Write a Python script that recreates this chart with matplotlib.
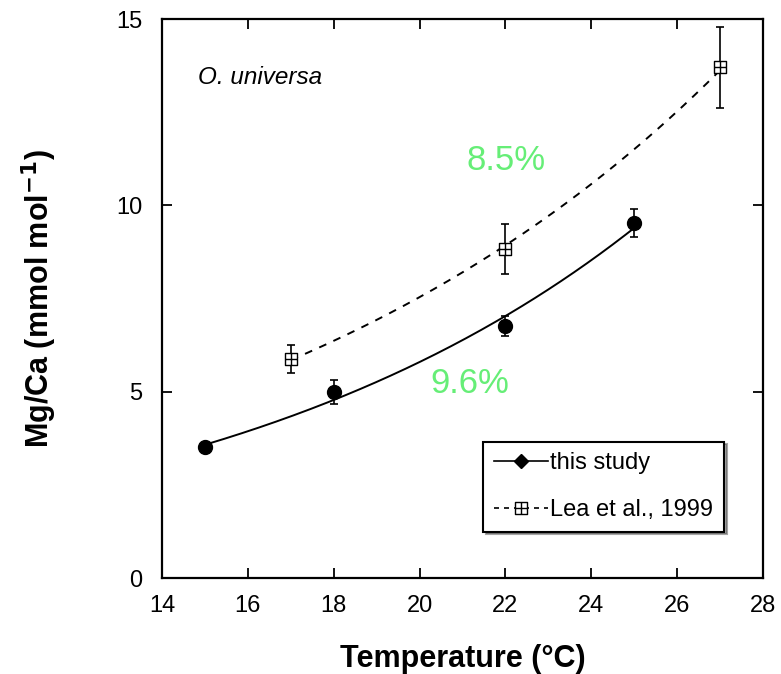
import numpy as np
import matplotlib
matplotlib.use("Agg")
import matplotlib.pyplot as plt
from matplotlib.path import Path
from matplotlib.lines import Line2D

plt.rcParams['font.family'] = ['Liberation Sans', 'DejaVu Sans']

# this study
t_this = [15, 18, 22, 25]
mg_this = [3.51, 4.99, 6.76, 9.53]
err_this = [0.08, 0.32, 0.27, 0.38]

# Lea et al., 1999
t_lea = [17, 22, 27]
mg_lea = [5.88, 8.83, 13.70]
err_lea = [0.38, 0.68, 1.08]

labels_pct = ["9.6%", "8.5%"]
xticks = [14, 16, 18, 20, 22, 24, 26, 28]
yticks = [0, 5, 10, 15]

fig = plt.figure(figsize=(7.81, 6.74), dpi=100)
ax = fig.add_axes([0.2074, 0.1424, 0.977 - 0.2074, 0.9718 - 0.1424])

# exponential fits from data
def expfit(t, y):
    a, b = np.polyfit(t, np.log(y), 1)
    return a, b

a1, b1 = expfit(t_this, mg_this)
a2, b2 = expfit(t_lea, mg_lea)
tt1 = np.linspace(min(t_this), max(t_this), 200)
tt2 = np.linspace(min(t_lea), max(t_lea), 200)
ax.plot(tt1, np.exp(b1 + a1 * tt1), color='black', lw=1.4)
ax.plot(tt2, np.exp(b2 + a2 * tt2), color='black', lw=1.4, ls=(0, (4, 4)))

# custom marker: square with plus
verts = [(-1, -1), (1, -1), (1, 1), (-1, 1), (-1, -1),
         (-1, 0), (1, 0), (0, -1), (0, 1)]
codes = [Path.MOVETO, Path.LINETO, Path.LINETO, Path.LINETO, Path.CLOSEPOLY,
         Path.MOVETO, Path.LINETO, Path.MOVETO, Path.LINETO]
sqplus = Path(verts, codes)

ax.errorbar(t_this, mg_this, yerr=err_this, fmt='o', color='black', ms=10,
            capsize=3, elinewidth=1.2, capthick=1.2)
ax.errorbar(t_lea, mg_lea, yerr=err_lea, fmt='none', ecolor='black',
            capsize=3, elinewidth=1.2, capthick=1.2)
ax.plot(t_lea, mg_lea, ls='none', marker=sqplus, ms=8.5, mfc='white',
        mec='black', mew=1.0)

ax.set_xlim(14, 28)
ax.set_ylim(0, 15)
ax.set_xticks(xticks)
ax.set_yticks(yticks)
ax.tick_params(direction='in', top=True, right=True, length=7, width=1.3,
               labelsize=17)
ax.tick_params(axis='x', pad=12)
ax.tick_params(axis='y', pad=14)
for s in ax.spines.values():
    s.set_linewidth(1.6)

ax.set_xlabel('Temperature (°C)', fontsize=22, fontweight='bold', labelpad=20)
ax.set_ylabel('Mg/Ca (mmol mol$^{\\mathbf{-1}}$)', fontsize=22,
              fontweight='bold', labelpad=41)

ax.text(14.84, 13.44, 'O. universa', fontsize=17.5, style='italic',
        va='center', ha='left')
ax.text(20.24, 5.23, labels_pct[0], fontsize=25, color='#66ee77',
        va='center', ha='left')
ax.text(21.1, 11.2, labels_pct[1], fontsize=25, color='#66ee77',
        va='center', ha='left')

h1 = Line2D([], [], color='black', lw=1.2, marker='D', ms=7)
h2 = Line2D([], [], color='black', lw=1.2, ls=(0, (3, 3)), marker=sqplus,
            ms=8, mfc='white', mec='black', mew=1.0)
leg = ax.legend([h1, h2], ['this study', 'Lea et al., 1999'],
                loc='lower right', bbox_to_anchor=(0.935, 0.083),
                fontsize=17, frameon=True, fancybox=False, shadow=True,
                edgecolor='black', handlelength=2.3, handletextpad=0.1,
                borderpad=0.45, borderaxespad=0, labelspacing=1.05,
                handleheight=0.7)
leg.get_frame().set_linewidth(1.5)

fig.savefig('out.png', dpi=100)
